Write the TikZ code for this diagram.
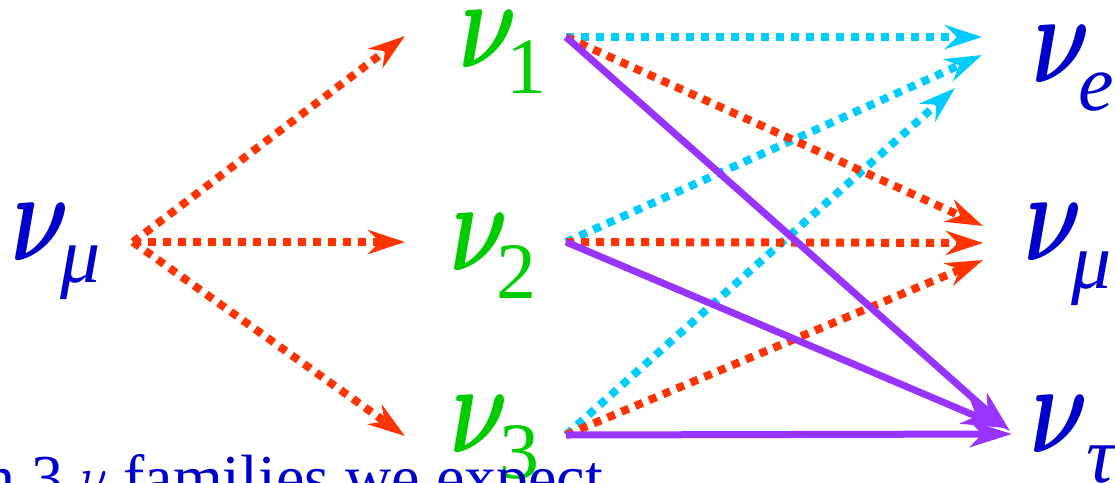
\RequirePackage{fix-cm}
\documentclass[tikz,border=0pt]{standalone}
\usepackage{fontspec}
\setmainfont{Liberation Serif}
\usetikzlibrary{arrows.meta}
\definecolor{nured}{HTML}{FF3300}
\definecolor{nucyan}{HTML}{00CCFF}
\definecolor{nupurple}{HTML}{9933FF}
\definecolor{nugreen}{HTML}{00CC00}
\definecolor{nublue}{HTML}{0000CC}
\newcommand\nuglyph{\scalebox{0.7}[1]{\fontsize{128}{128}\selectfont\boldmath$\nu$}}
\newcommand\nulab[3]{\nuglyph\kern#1pt\raisebox{#2pt}{\fontsize{80}{80}\selectfont #3}}
\tikzset{
  lbl/.style={inner sep=0pt, outer sep=0pt, anchor=base west},
  dotarrow/.style={line width=8pt, dash pattern=on 8pt off 7pt,
    -{Stealth[length=37pt, width=24pt, inset=12pt]}},
  solidarrow/.style={line width=7pt, color=nupurple,
    -{Stealth[length=42pt, width=26pt, inset=12pt]}},
}
\begin{document}
\begin{tikzpicture}[x=1pt,y=-1pt]
\useasboundingbox (0,0) rectangle (1115,482);
\clip (0,0) rectangle (1115,482);
% labels
\node[lbl, text=nublue] (lmu) at (12,260) {\nulab{-9}{-22}{\itshape μ}};
\node[lbl, text=nugreen] (m1) at (459,67) {\nulab{-10}{-26}{1}};
\node[lbl, text=nugreen] (m2) at (450,270) {\nulab{-11}{-28}{2}};
\node[lbl, text=nugreen] (m3) at (450,452) {\nulab{-8}{-26}{3}};
\node[lbl, text=nublue] (re) at (1032,82) {\nulab{-11}{-28}{\itshape e}};
\node[lbl, text=nublue] (rmu) at (1024,260) {\nulab{-10}{-28}{\itshape μ}};
\node[lbl, text=nublue] (rtau) at (1030,452) {\nulab{-1}{-30}{\itshape τ}};
\node[lbl, text=nublue, font=\fontsize{64}{64}\selectfont] (txt) at (-38,499) {In 3 \scalebox{0.8}[1]{\fontsize{64}{64}\selectfont$\nu$} families we expect};
% connector end points
\coordinate (s0) at (133,242);
\coordinate (a1) at (405,36);
\coordinate (a2) at (405,242);
\coordinate (a3) at (405,436);
\coordinate (s1) at (566,37);
\coordinate (s2) at (566,242);
\coordinate (s3) at (566,435);
\coordinate (e1) at (982,37);
\coordinate (e2) at (982,55);
\coordinate (e3) at (955,88);
\coordinate (u1) at (983,226);
\coordinate (u2) at (983,243);
\coordinate (u3) at (983,260);
\coordinate (t1) at (1010,431);
\coordinate (t2) at (1004,428);
\coordinate (t3) at (1012,434);
% left fan
\draw[dotarrow, nured] (s0) -- (a1);
\draw[dotarrow, nured] (s0) -- (a2);
\draw[dotarrow, nured] (s0) -- (a3);
% to nu_e
\draw[dotarrow, nucyan] (s1) -- (e1);
\draw[dotarrow, nucyan] (s2) -- (e2);
\draw[dotarrow, nucyan] (s3) -- (e3);
% to nu_mu
\draw[dotarrow, nured] (s1) -- (u1);
\draw[dotarrow, nured] (s2) -- (u2);
\draw[dotarrow, nured] (s3) -- (u3);
% to nu_tau
\draw[solidarrow] (s1) -- (t1);
\draw[solidarrow] (s2) -- (t2);
\draw[solidarrow] (s3) -- (t3);
\end{tikzpicture}
\end{document}
